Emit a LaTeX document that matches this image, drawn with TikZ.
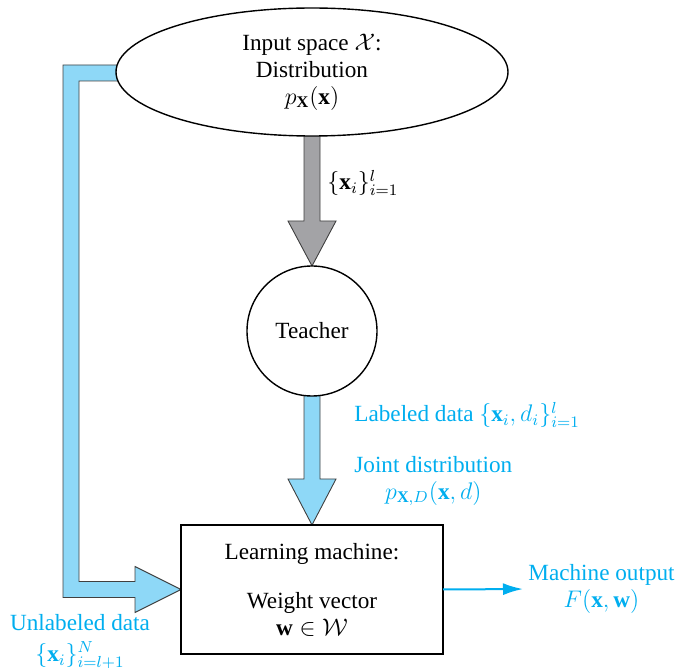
\documentclass[tikz,border=0pt]{standalone}
\usepackage{amsmath}
\usepackage{fontspec}
\setmainfont{Liberation Serif}
\usetikzlibrary{shapes.geometric,calc,backgrounds,arrows.meta}
\definecolor{skyfill}{RGB}{142,216,247}
\definecolor{skytext}{RGB}{0,174,239}
\definecolor{arrgray}{RGB}{163,163,166}

\begin{document}
\begin{tikzpicture}[x=0.5pt, y=-0.5pt, >=Latex,
    font=\fontsize{11.6}{13.5}\selectfont,
    block/.style={draw, line width=0.7pt, fill=white, inner sep=0pt, outer sep=0pt, align=center},
    fat/.style={draw=black!75, line width=0.45pt},
    lbl/.style={text=skytext, inner sep=0pt}]
    \useasboundingbox (0,0) rectangle (681,668);

    % the three blocks
    \node[block, ellipse, minimum width=196pt, minimum height=64pt] (inp) at (312,72)
        {Input space $\mathcal{X}$:\\ Distribution\\ $p_{\mathbf{X}}(\mathbf{x})$};
    \node[block, circle, minimum size=65pt] (teacher) at (312,331) {Teacher};
    \node[block, rectangle, minimum width=131pt, minimum height=64.5pt] (mach) at (312,589.5)
        {Learning machine:\\[11pt] Weight vector\\ $\mathbf{w}\in\mathcal{W}$};

    % wide arrows behind the blocks
    \begin{scope}[on background layer]
        \draw[fat, fill=arrgray] ($(inp.south)+(-8,-6)$) -- ($(teacher.north)+(-8,-45)$) -- ++(-16,0)
            -- (teacher.north) -- ($(teacher.north)+(24,-45)$) -- ++(-16,0) -- ($(inp.south)+(8,-6)$) -- cycle;
        \draw[fat, fill=skyfill] ($(teacher.south)+(-8,-6)$) -- ($(mach.north)+(-8,-46)$) -- ++(-16,0)
            -- (mach.north) -- ($(mach.north)+(24,-46)$) -- ++(-16,0) -- ($(teacher.south)+(8,-6)$) -- cycle;
        \draw[fat, fill=skyfill] ($(inp.west)+(6,-7)$) -- ++(-59,0) |- ($(mach.west)+(-46,8)$) -- ++(0,15)
            -- (mach.west) -- ++(-46,-23) -- ++(0,15) -| ($(inp.west)+(-37,9)$) -- ($(inp.west)+(6,9)$) -- cycle;
    \end{scope}

    % labels
    \node[anchor=west, inner sep=0pt] (samp) at (327,183) {$\{\mathbf{x}_i\}_{i=1}^{l}$};
    \node[lbl, anchor=west] (labd) at (354,415) {Labeled data $\{\mathbf{x}_i, d_i\}_{i=1}^{l}$};
    \node[lbl, anchor=west, align=center] (joint) at (354,481)
        {Joint distribution\\ $p_{\mathbf{X},D}(\mathbf{x}, d)$};
    \node[lbl, align=center] (unlab) at (80,642)
        {Unlabeled data\\[2pt] $\{\mathbf{x}_i\}_{i=l+1}^{N}$};
    \node[lbl, anchor=west, align=center] (outl) at (528,589)
        {Machine output\\ $F(\mathbf{x}, \mathbf{w})$};

    \draw[-{Latex[length=10pt,width=6pt]}, skytext, line width=1pt, shorten >=2.5pt] (mach.east) -- (outl.west);
\end{tikzpicture}
\end{document}
